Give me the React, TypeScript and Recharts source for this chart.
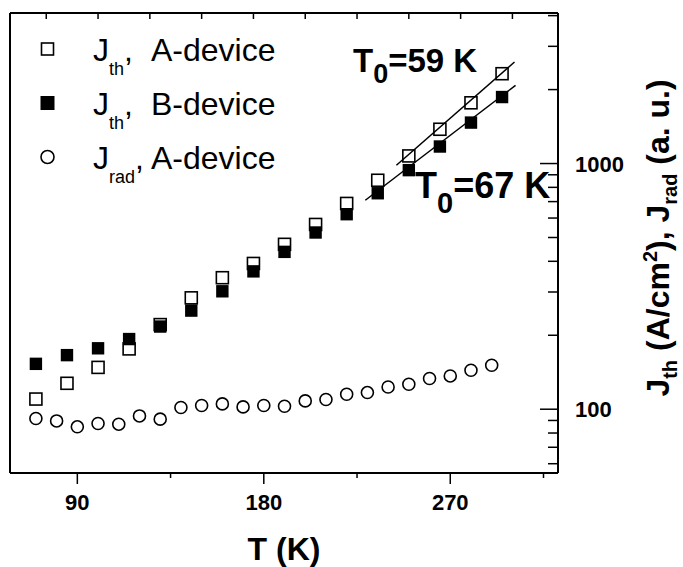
import React from 'react';
import { ScatterChart, Scatter, XAxis, YAxis, Legend, Customized } from 'recharts';

const FONT = '"Liberation Sans", Arial, Helvetica, sans-serif';

// ---- data ----
const tempRad = [70, 80, 90, 100, 110, 120, 130, 140, 150, 160, 170, 180, 190, 200, 210, 220, 230, 240, 250, 260, 270, 280, 290];
const jRadA = [91.7, 89.6, 84.8, 87.5, 86.9, 93.9, 91.1, 101.6, 103.5, 105.1, 102.2, 103.5, 102.8, 108.1, 109.5, 115.1, 116.9, 123.2, 126.4, 133.3, 136.6, 144.1, 151];

const tempTh = [70, 85, 100, 115, 130, 145, 160, 175, 190, 205, 220, 235, 250, 265, 280, 295];
const jThA = [110, 127.5, 148, 176, 221, 284, 343, 392, 469, 565, 688, 855, 1074, 1379, 1767, 2321];
const jThB = [153, 166, 177, 193, 217, 252, 302, 364, 437, 524, 622, 757, 940, 1173, 1468, 1865];

const fitTempA = [244, 301];
const fitValA = [984, 2590];
const fitTempB = [229, 301.5];
const fitValB = [709, 2080];

const xTicks = [90, 135, 180, 225, 270, 315];
const xMajorTicks = [90, 180, 270];
const xTopTicks = [75, 100, 125, 150, 175, 200, 225, 250, 275, 300];
const yTicks = [60, 70, 80, 90, 100, 200, 300, 400, 500, 600, 700, 800, 900, 1000, 2000, 3000, 4000];
const yMajorTicks = [100, 1000];
const xDomain = [57.5, 322];
const yDomain = [55, 4100];

const legendNames = ['A-device', 'B-device', 'A-device'];
const legendSubs = ['th', 'th', 'rad'];
const annotations = ['59 K', '67 K'];

const toPoints = (ts: number[], vs: number[]) => ts.map((T, i) => ({ T, v: vs[i] }));

const dataA = toPoints(tempTh, jThA);
const dataB = toPoints(tempTh, jThB);
const dataRad = toPoints(tempRad, jRadA);
const fitA = toPoints(fitTempA, fitValA);
const fitB = toPoints(fitTempB, fitValB);

// ---- shapes ----
const OpenSquare = (p: any) => (
  <rect x={p.cx - 6} y={p.cy - 6} width={12} height={12} fill="#fff" stroke="#000" strokeWidth={1.6} />
);
const FilledSquare = (p: any) => (
  <rect x={p.cx - 6.2} y={p.cy - 6.2} width={12.4} height={12.4} fill="#000" />
);
const OpenCircle = (p: any) => (
  <circle cx={p.cx} cy={p.cy} r={6} fill="none" stroke="#000" strokeWidth={1.6} />
);
const NoShape = () => <g />;

// ---- ticks ----
const BottomTick = (props: any) => {
  const { x, y, payload } = props;
  const major = xMajorTicks.includes(payload.value);
  return (
    <g>
      <line x1={x} y1={y} x2={x} y2={y + (major ? 11 : 5)} stroke="#000" strokeWidth={1.5} />
      {major && (
        <text x={x} y={y + 37} textAnchor="middle" fontFamily={FONT} fontWeight="bold" fontSize={22} fill="#000">
          {payload.value}
        </text>
      )}
    </g>
  );
};

const TopTick = (props: any) => {
  const { x, y } = props;
  return <line x1={x} y1={y} x2={x} y2={y + 6} stroke="#000" strokeWidth={1.5} />;
};

const RightTick = (props: any) => {
  const { x, y, payload } = props;
  const major = yMajorTicks.includes(payload.value);
  return (
    <g>
      <line x1={x} y1={y} x2={x - (major ? 18 : 10)} y2={y} stroke="#000" strokeWidth={1.5} />
      {major && (
        <text x={x + 17} y={y + 8} textAnchor="start" fontFamily={FONT} fontWeight="bold" fontSize={22} fill="#000">
          {payload.value}
        </text>
      )}
    </g>
  );
};

const EmptyTick = () => <g />;

// ---- legend ----
const LegendContent = () => (
  <svg width={300} height={190} style={{ display: 'block' }}>
    {legendNames.map((name, i) => {
      const cy = 49 + 54 * i;
      let sym;
      if (i === 0) sym = <rect x={41.5} y={cy - 6} width={12} height={12} fill="#fff" stroke="#000" strokeWidth={1.6} />;
      else if (i === 1) sym = <rect x={40.5} y={cy - 7} width={14} height={14} fill="#000" />;
      else sym = <circle cx={47.5} cy={cy} r={6.5} fill="none" stroke="#000" strokeWidth={1.6} />;
      return (
        <g key={i}>
          {sym}
          <text x={93} y={cy + 12} fontFamily={FONT} fontSize={32} fill="#000">
            J
            <tspan fontSize={18} dy={14}>{legendSubs[i]}</tspan>
            <tspan dy={-14}>,</tspan>
            <tspan x={151}>{name}</tspan>
          </text>
        </g>
      );
    })}
  </svg>
);

// ---- annotations & titles ----
const Annotations = () => (
  <g fontFamily={FONT} fill="#000">
    <text x={353} y={72} fontSize={33} fontWeight="bold">
      T<tspan fontSize={27} dy={11}>0</tspan>
      <tspan dy={-11}>={annotations[0]}</tspan>
    </text>
    <text x={415} y={198} fontSize={36} fontWeight="bold">
      T<tspan fontSize={29} dy={15}>0</tspan>
      <tspan dy={-15}>={annotations[1]}</tspan>
    </text>
    <text x={284} y={560} textAnchor="middle" fontSize={32} fontWeight="bold">
      T (K)
    </text>
    <text x={669} y={238} transform="rotate(-90 669 238)" textAnchor="middle" fontSize={32} fontWeight="bold">
      J<tspan fontSize={20} dy={8}>th</tspan>
      <tspan dy={-8}> (A/cm</tspan>
      <tspan fontSize={20} dy={-12}>2</tspan>
      <tspan dy={12}>), J</tspan>
      <tspan fontSize={20} dy={8}>rad</tspan>
      <tspan dy={-8}> (a. u.)</tspan>
    </text>
  </g>
);

const frame = { stroke: '#000', strokeWidth: 2 };

export default function App() {
  return (
    <div style={{ position: 'fixed', left: 0, top: 0, width: 683, height: 567, background: '#fff' }}>
      <ScatterChart width={683} height={567} margin={{ top: 0, right: 0, bottom: 0, left: 0 }}>
        <XAxis
          xAxisId="b"
          type="number"
          dataKey="T"
          orientation="bottom"
          domain={xDomain}
          ticks={xTicks}
          interval={0}
          allowDataOverflow
          height={94}
          axisLine={frame}
          tickLine={false}
          tickSize={0}
          tickMargin={0}
          tick={BottomTick}
        />
        <XAxis
          xAxisId="t"
          type="number"
          dataKey="T"
          orientation="top"
          domain={xDomain}
          ticks={xTopTicks}
          interval={0}
          allowDataOverflow
          height={13}
          axisLine={frame}
          tickLine={false}
          tickSize={0}
          tickMargin={0}
          tick={TopTick}
        />
        <YAxis
          yAxisId="r"
          type="number"
          dataKey="v"
          orientation="right"
          scale="log"
          domain={yDomain}
          ticks={yTicks}
          interval={0}
          allowDataOverflow
          width={125}
          axisLine={frame}
          tickLine={false}
          tickSize={0}
          tickMargin={0}
          tick={RightTick}
        />
        <YAxis
          yAxisId="l"
          type="number"
          dataKey="v"
          orientation="left"
          scale="log"
          domain={yDomain}
          ticks={yMajorTicks}
          allowDataOverflow
          width={10}
          axisLine={frame}
          tickLine={false}
          tickSize={0}
          tick={EmptyTick}
        />
        <Legend
          layout="vertical"
          align="center"
          verticalAlign="middle"
          wrapperStyle={{ left: 0, top: 0, width: 300, height: 190 }}
          content={LegendContent}
        />
        <Scatter name="Jth, A-device" data={dataA} xAxisId="b" yAxisId="r" shape={OpenSquare} isAnimationActive={false} />
        <Scatter name="Jth, B-device" data={dataB} xAxisId="b" yAxisId="r" shape={FilledSquare} isAnimationActive={false} />
        <Scatter name="Jrad, A-device" data={dataRad} xAxisId="b" yAxisId="r" shape={OpenCircle} isAnimationActive={false} />
        <Scatter name="fit A" data={fitA} xAxisId="b" yAxisId="r" line={{ stroke: '#000', strokeWidth: 1.5 }} shape={NoShape} legendType="none" isAnimationActive={false} />
        <Scatter name="fit B" data={fitB} xAxisId="b" yAxisId="r" line={{ stroke: '#000', strokeWidth: 1.5 }} shape={NoShape} legendType="none" isAnimationActive={false} />
        <Scatter name="frame" data={fitA} xAxisId="t" yAxisId="l" shape={NoShape} legendType="none" isAnimationActive={false} />
        <Customized component={<Annotations />} />
      </ScatterChart>
    </div>
  );
}
